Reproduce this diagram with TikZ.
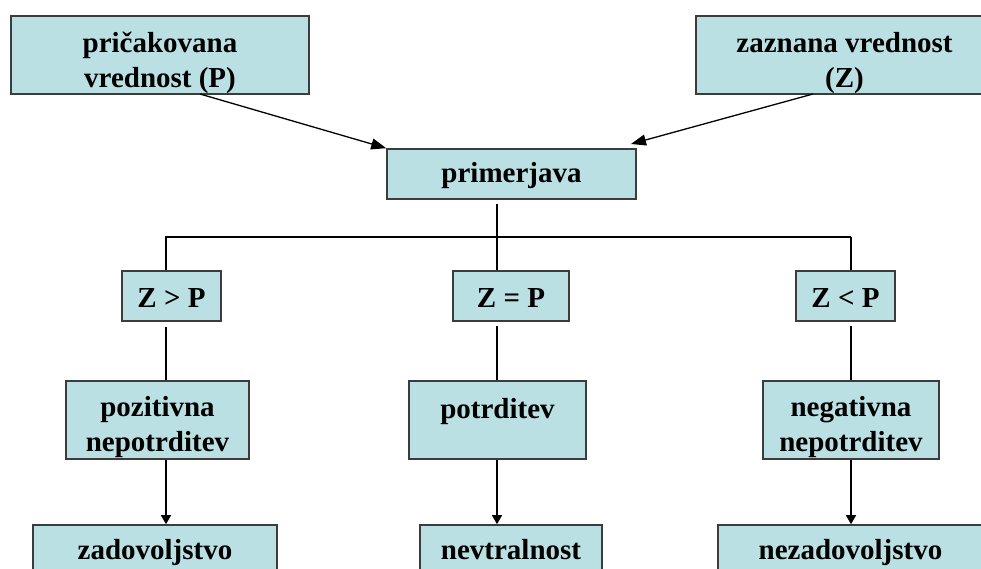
\documentclass[tikz,border=0pt]{standalone}
\usepackage{fontspec}
\setmainfont{Liberation Serif}
\usetikzlibrary{arrows.meta}
\definecolor{boxfill}{HTML}{BAE0E3}
\definecolor{boxline}{HTML}{3C3C3C}
\begin{document}
\begin{tikzpicture}[x=1pt,y=-1pt,
  box/.style={draw=boxline,fill=boxfill,line width=1.6pt,rectangle,inner sep=0pt},
  lbl/.style={anchor=base,inner sep=0pt,font=\fontsize{29}{35.5}\selectfont\bfseries},
  conn/.style={line width=1.3pt,black},
  bigtip/.style={-{Triangle[length=15pt,width=11pt]}},
  smalltip/.style={-{Triangle[length=9pt,width=10pt]}}]
\useasboundingbox (0,0) rectangle (981,569);
\clip (0,0) rectangle (981,569);

% boxes
\node[box,minimum width=298pt,minimum height=78pt] (p)    at (160,55) {};
\node[box,minimum width=297pt,minimum height=78pt] (z)    at (844.5,55) {};
\node[box,minimum width=249pt,minimum height=50pt] (prim) at (511.5,174) {};
\node[box,minimum width=99pt,minimum height=50pt]  (zgt)  at (171.5,296) {};
\node[box,minimum width=116pt,minimum height=50pt] (zeq)  at (511,296) {};
\node[box,minimum width=99pt,minimum height=50pt]  (zlt)  at (845.5,296) {};
\node[box,minimum width=183pt,minimum height=78pt] (poz)  at (157.5,420) {};
\node[box,minimum width=177pt,minimum height=78pt] (pot)  at (497.5,420) {};
\node[box,minimum width=176pt,minimum height=78pt] (neg)  at (851,420) {};
\node[box,minimum width=244pt,minimum height=60pt] (zad)  at (155,555) {};
\node[box,minimum width=182pt,minimum height=60pt] (nev)  at (511,555) {};
\node[box,minimum width=265pt,minimum height=60pt] (nez)  at (850.5,555) {};

% labels, first baseline 36pt below the top edge
\node[lbl] (ptx)    at ([yshift=-37pt]p.north) {\begin{tabular}[t]{@{}c@{}}pričakovana\\vrednost (P)\end{tabular}};
\node[lbl] (ztx)    at ([yshift=-37pt]z.north) {\begin{tabular}[t]{@{}c@{}}zaznana vrednost\\(Z)\end{tabular}};
\node[lbl] (primtx) at ([yshift=-34pt]prim.north) {primerjava};
\node[lbl] (zgttx)  at ([yshift=-37pt]zgt.north) {Z > P};
\node[lbl] (zeqtx)  at ([yshift=-37pt]zeq.north) {Z = P};
\node[lbl] (zlttx)  at ([yshift=-37pt]zlt.north) {Z < P};
\node[lbl] (poztx)  at ([yshift=-36pt]poz.north) {\begin{tabular}[t]{@{}c@{}}pozitivna\\nepotrditev\end{tabular}};
\node[lbl] (pottx)  at ([yshift=-38pt]pot.north) {potrditev};
\node[lbl] (negtx)  at ([yshift=-36pt]neg.north) {\begin{tabular}[t]{@{}c@{}}negativna\\nepotrditev\end{tabular}};
\node[lbl] (zadtx)  at ([yshift=-35pt]zad.north) {zadovoljstvo};
\node[lbl] (nevtx)  at ([yshift=-35pt]nev.north) {nevtralnost};
\node[lbl] (neztx)  at ([yshift=-35pt]nez.north) {nezadovoljstvo};

% branch points
\coordinate (trunk) at (497,204);
\coordinate (bar)   at (497,237);
\coordinate (pfoot) at (200,94);
\coordinate (zfoot) at (813,94);
\coordinate (ztip)  at (631,144);

% incoming arrows
\draw[conn,bigtip] (pfoot) -- (prim.north west);
\draw[conn,bigtip] (zfoot) -- (ztip);

% distribution bar
\draw[conn] (trunk) -- (trunk |- zeq.north);
\draw[conn] (bar -| 165,0) -- (bar -| 851,0);
\draw[conn] (bar -| 166,0) -- (166,0 |- zgt.north);
\draw[conn] (bar -| 851,0) -- (851,0 |- zlt.north);

% comparison results to outcomes
\draw[conn] ([yshift=-5pt]zgt.south -| poz.north -| 166,0) -- (166,0 |- poz.north);
\draw[conn] (497,326) -- (497,0 |- pot.north);
\draw[conn] (851,326) -- (851,0 |- neg.north);

% outcomes to feelings
\draw[conn,smalltip] (166,0 |- poz.south) -- (166,0 |- zad.north);
\draw[conn,smalltip] (497,0 |- pot.south) -- (497,0 |- nev.north);
\draw[conn,smalltip] (851,0 |- neg.south) -- (851,0 |- nez.north);
\end{tikzpicture}
\end{document}
